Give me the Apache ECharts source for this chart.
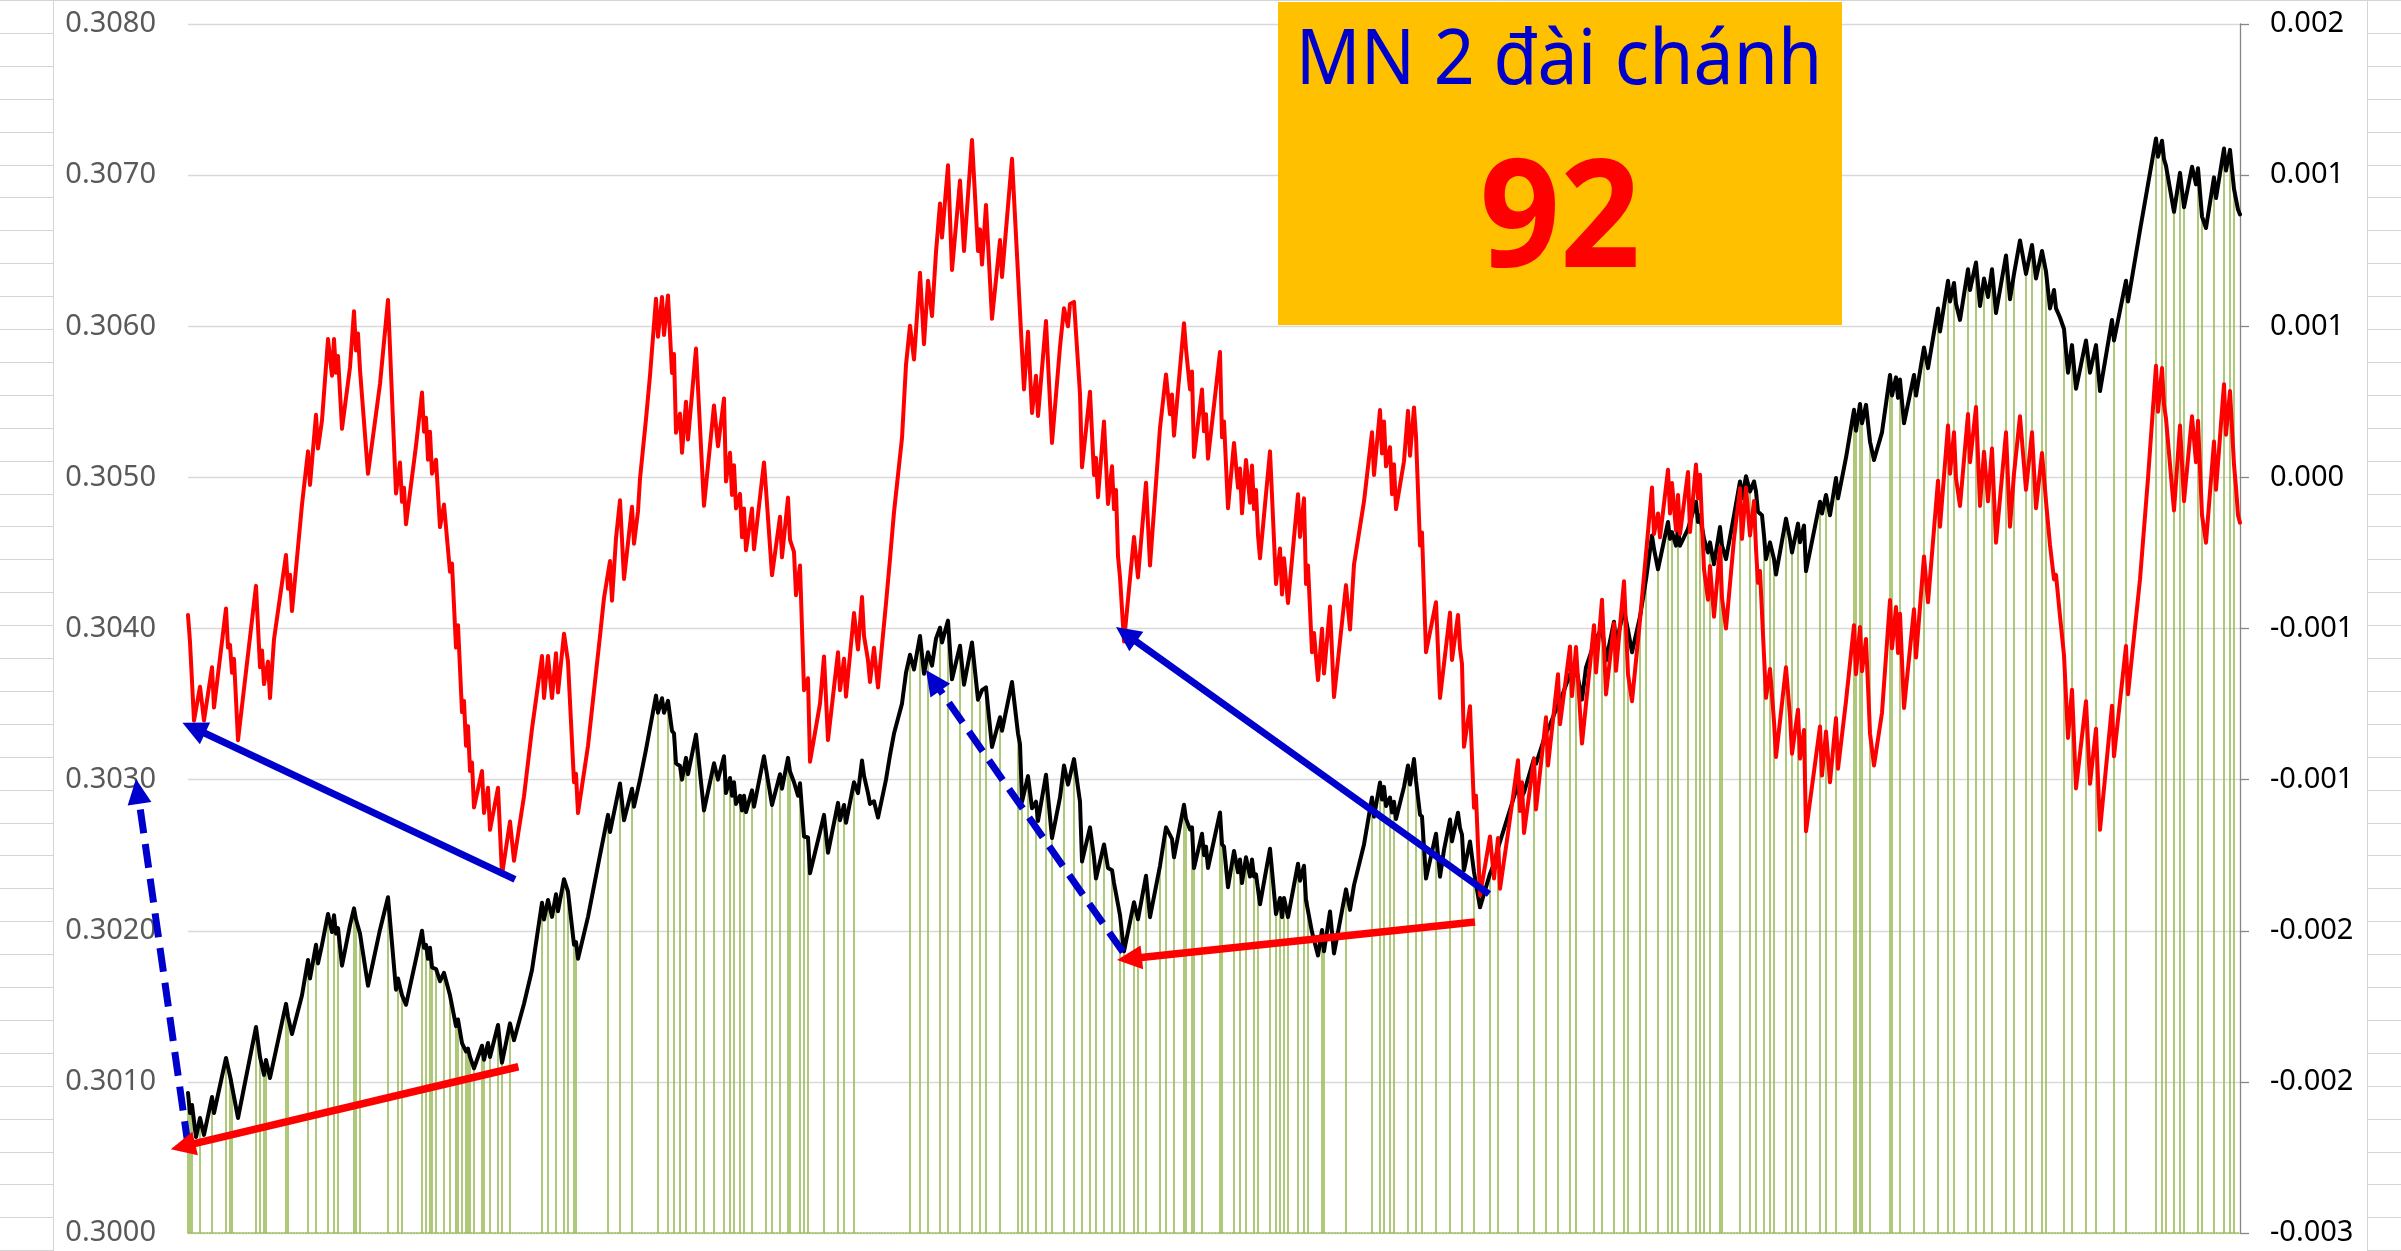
<!DOCTYPE html>
<html><head><meta charset="utf-8">
<script src="https://cdn.jsdelivr.net/npm/echarts/dist/echarts.min.js"></script>
<style>html,body{margin:0;padding:0;background:#fff;}#c{width:2401px;height:1251px;}</style>
</head><body><div id="c"></div>
<script>
// session index (x) and ratio value (left axis)
const blackData = [[0,0.300927],[1,0.300794],[2,0.300847],[4,0.300635],[6,0.300761],[8,0.300649],[12,0.300900],[13,0.300794],[19,0.301158],[21,0.301039],[22,0.301026],[25,0.300761],[34,0.301363],[36,0.301165],[38,0.301046],[39,0.301145],[41,0.301026],[49,0.301516],[50,0.301430],[52,0.301317],[57,0.301573],[60,0.301807],[61,0.301684],[64,0.301907],[65,0.301784],[67,0.301907],[70,0.302111],[72,0.301992],[73,0.302103],[74,0.301981],[75,0.302018],[77,0.301769],[81,0.302037],[83,0.302148],[84,0.302074],[85,0.302074],[86,0.301981],[90,0.301636],[96,0.302007],[100,0.302222],[104,0.301610],[105,0.301684],[107,0.301573],[109,0.301510],[114,0.301814],[117,0.302000],[118,0.301888],[119,0.301907],[120,0.301814],[121,0.301888],[122,0.301758],[124,0.301747],[126,0.301666],[128,0.301721],[131,0.301573],[132,0.301584],[134,0.301369],[135,0.301413],[137,0.301257],[139,0.301202],[140,0.301220],[141,0.301165],[143,0.301090],[147,0.301239],[148,0.301146],[150,0.301257],[151,0.301165],[155,0.301376],[157,0.301127],[161,0.301387],[163,0.301276],[168,0.301517],[172,0.301740],[177,0.302185],[178,0.302074],[180,0.302204],[182,0.302092],[184,0.302241],[185,0.302129],[188,0.302341],[190,0.302259],[193,0.301907],[194,0.301925],[195,0.301814],[200,0.302092],[206,0.302500],
[210,0.302767],[211,0.302653],[216,0.302975],[218,0.302731],[222,0.302940],[223,0.302821],[226,0.303000],[229,0.303198],[234,0.303556],[235,0.303442],[237,0.303539],[238,0.303442],[240,0.303521],[242,0.303323],[243,0.303305],[244,0.303108],[246,0.303090],[247,0.303000],[249,0.303144],[250,0.303036],[254,0.303298],[258,0.302796],[263,0.303108],[265,0.303000],[268,0.303155],[269,0.302911],[271,0.303011],[272,0.302893],[273,0.302983],[274,0.302839],[276,0.302893],[277,0.302796],[278,0.302893],[279,0.302785],[282,0.302929],[283,0.302821],[288,0.303155],[289,0.303072],[292,0.302832],[296,0.303036],[297,0.302940],[300,0.303144],[301,0.303054],[303,0.302983],[304,0.302976],[305,0.302893],[306,0.302976],[308,0.302624],[310,0.302617],[311,0.302380],[316,0.302653],[318,0.302767],[320,0.302516],[325,0.302846],[326,0.302731],[328,0.302832],[329,0.302714],[333,0.302983],[335,0.302911],[337,0.303126],[338,0.303026],[340,0.302911],[341,0.302839],[343,0.302857],[345,0.302749],[349,0.303000],[351,0.303162],[353,0.303305],[357,0.303503],[359,0.303707],[361,0.303826],[363,0.303729],[366,0.303951],[368,0.303700],[370,0.303843],[372,0.303754],[374,0.303933],[376,0.304005],[377,0.303908],[380,0.304052],[382,0.303664],[386,0.303886],[388,0.303628],[392,0.303908],[395,0.303528],[396,0.303521],[397,0.303592],[399,0.303610],[402,0.303216],[406,0.303413],[407,0.303323],[412,0.303646],[415,0.303305],
[416,0.303235],[417,0.302854],[420,0.303023],[422,0.302811],[424,0.302854],[425,0.302726],[429,0.303032],[432,0.302613],[436,0.302882],[438,0.303094],[440,0.302967],[443,0.303136],[446,0.302854],[447,0.302458],[451,0.302684],[453,0.302486],[454,0.302345],[458,0.302571],[460,0.302415],[462,0.302401],[463,0.302316],[464,0.302325],[466,0.302104],[468,0.301864],[473,0.302189],[475,0.302076],[479,0.302364],[481,0.302090],[486,0.302430],[489,0.302684],[492,0.302608],[493,0.302486],[498,0.302834],[499,0.302740],[501,0.302670],[502,0.302684],[503,0.302415],[507,0.302642],[508,0.302500],[509,0.302557],[510,0.302415],[516,0.302783],[517,0.302571],[518,0.302557],[520,0.302288],[523,0.302528],[525,0.302387],[526,0.302472],[527,0.302316],[529,0.302486],[531,0.302359],[532,0.302472],[533,0.302359],[534,0.302373],[535,0.302274],[536,0.302175],[541,0.302543],[544,0.302110],[546,0.302217],[547,0.302090],[548,0.302217],[550,0.302090],[555,0.302444],[556,0.302331],[558,0.302430],[559,0.302203],[560,0.302203],[562,0.301991],[563,0.301991],[565,0.301836],[567,0.302005],[568,0.301864],[571,0.302127],[573,0.301850],[579,0.302274],[581,0.302138],[583,0.302302],[588,0.302571],[592,0.302882],[593,0.302755],[596,0.302981],[597,0.302868],[598,0.302952],[599,0.302825],[601,0.302882],[602,0.302783],[603,0.302854],[604,0.302740],[608,0.302952],[610,0.303094],[611,0.302967],[613,0.303136],[614,0.302995],[616,0.302769],[617,0.302755],[619,0.302345],[624,0.302642],[626,0.302358],
[628,0.302535],[631,0.302736],[632,0.302591],[635,0.302781],[636,0.302680],[637,0.302635],[638,0.302401],[641,0.302591],[643,0.302389],[644,0.302378],[646,0.302155],[651,0.302378],[653,0.302445],[655,0.302546],[660,0.302759],[665,0.302971],[666,0.302870],[668,0.302915],[673,0.303139],[674,0.303105],[679,0.303307],[681,0.303363],[685,0.303497],[687,0.303553],[691,0.303698],[692,0.303653],[694,0.303743],[697,0.303530],[699,0.303743],[703,0.303899],[707,0.304011],[709,0.303788],[713,0.304045],[714,0.303899],[718,0.304123],[720,0.303989],[722,0.303843],[726,0.304078],[729,0.304324],[732,0.304615],[733,0.304526],[735,0.304392],[740,0.304705],[741,0.304593],[742,0.304638],[744,0.304548],[745,0.304660],[746,0.304548],[750,0.304660],[754,0.304839],[755,0.304705],[756,0.304749],[758,0.304593],[760,0.304503],[761,0.304570],[763,0.304425],[766,0.304671],[767,0.304548],[769,0.304459],[773,0.304749],[776,0.304973],[777,0.304861],[779,0.305007],[781,0.304906],[783,0.304973],[784,0.304906],[785,0.304772],[787,0.304749],[788,0.304615],[789,0.304459],[791,0.304570],[793,0.304459],[794,0.304358],[799,0.304727],[801,0.304593],[802,0.304503],[805,0.304694],[806,0.304570],[808,0.304682],[809,0.304380],[816,0.304839],[817,0.304761],[819,0.304884],[821,0.304749],[824,0.304996],[825,0.304861],[829,0.305130],[833,0.305447],[834,0.305309],[836,0.305486],
[837,0.305358],[839,0.305480],[841,0.305237],[843,0.305115],[847,0.305298],[851,0.305678],[852,0.305541],[854,0.305662],[855,0.305526],[856,0.305647],[858,0.305358],[863,0.305678],[864,0.305541],[868,0.305860],[870,0.305723],[875,0.306118],[876,0.305966],[880,0.306301],[881,0.306164],[883,0.306286],[884,0.306149],[886,0.306042],[890,0.306377],[891,0.306240],[894,0.306422],[896,0.306134],[898,0.306316],[900,0.306194],[902,0.306377],[904,0.306088],[909,0.306468],[911,0.306179],[913,0.306346],[916,0.306568],[919,0.306346],[922,0.306538],[924,0.306316],[927,0.306498],[929,0.306362],[931,0.306118],[933,0.306240],[934,0.306118],[936,0.306058],[938,0.305982],[940,0.305693],[942,0.305875],[944,0.305586],[949,0.305906],[951,0.305693],[954,0.305875],[956,0.305571],[962,0.306042],[963,0.305906],[969,0.306301],[970,0.306164],[976,0.306635],[980,0.306939],[984,0.307243],[985,0.307122],[987,0.307228],[988,0.307106],[989,0.307061],[993,0.306757],[996,0.307015],[998,0.306787],[1002,0.307055],[1004,0.306939],[1005,0.307046],[1007,0.306726],[1009,0.306650],[1013,0.306985],[1014,0.306848],[1018,0.307176],[1019,0.307030],[1021,0.307167],[1023,0.306909],[1025,0.306772],[1026,0.306740]];

const redData = [[0,0.304089],[1,0.303911],[3,0.303391],[6,0.303614],[8,0.303391],[12,0.303744],[13,0.303477],[19,0.304133],[20,0.303874],[21,0.303892],[22,0.303707],[23,0.303799],[25,0.303261],[34,0.304282],[36,0.303744],[37,0.303855],[38,0.303632],[40,0.303781],[41,0.303540],[43,0.303929],[49,0.304486],[50,0.304263],[51,0.304356],[52,0.304115],[57,0.304820],[60,0.305172],[61,0.304950],[64,0.305414],[65,0.305191],[67,0.305377],[70,0.305915],[72,0.305673],[73,0.305915],[74,0.305692],[75,0.305803],[77,0.305321],[81,0.305729],[83,0.306100],[84,0.305840],[85,0.305952],[86,0.305711],[90,0.305024],[96,0.305618],[100,0.306174],[104,0.304894],[106,0.305098],[107,0.304838],[108,0.304931],[109,0.304690],[114,0.305210],[117,0.305562],[118,0.305302],[119,0.305395],[120,0.305117],[121,0.305302],[122,0.305024],[124,0.305117],[126,0.304671],[128,0.304820],[131,0.304375],[132,0.304430],[134,0.303874],[135,0.304022],[137,0.303447],[138,0.303521],[139,0.303224],[140,0.303354],[141,0.303057],[142,0.303113],[143,0.302816],[147,0.303057],[148,0.302779],[150,0.302946],[151,0.302668],[155,0.302946],[157,0.302371],[161,0.302723],[163,0.302463],[168,0.302890],[172,0.303336],[177,0.303818],[178,0.303540],[180,0.303818],[182,0.303540],[184,0.303836],[185,0.303577],[188,0.303966],[190,0.303781],[193,0.302983],[194,0.303039],[195,0.302779],[200,0.303224],[206,0.303950],
[208,0.304202],[211,0.304446],[212,0.304184],[214,0.304597],[216,0.304848],[218,0.304328],[222,0.304805],[223,0.304561],[225,0.304776],[226,0.304991],[229,0.305386],[231,0.305673],[234,0.306182],[235,0.305931],[237,0.306193],[238,0.305942],[240,0.306204],[242,0.305691],[243,0.305816],[244,0.305296],[246,0.305422],[247,0.305163],[249,0.305501],[250,0.305250],[254,0.305852],[258,0.304812],[263,0.305476],[265,0.305206],[268,0.305522],[269,0.304973],[271,0.305163],[272,0.304884],[273,0.305081],[274,0.304794],[276,0.304891],[277,0.304604],[278,0.304794],[279,0.304518],[282,0.304794],[283,0.304525],[288,0.305099],[289,0.304920],[292,0.304353],[296,0.304740],[297,0.304471],[300,0.304866],[301,0.304586],[303,0.304507],[304,0.304220],[306,0.304417],[308,0.303592],[310,0.303671],[311,0.303119],[316,0.303503],[318,0.303815],[320,0.303262],[325,0.303843],[326,0.303592],[328,0.303800],[329,0.303549],[333,0.304102],[335,0.303861],[337,0.304209],[338,0.303951],[340,0.303790],[341,0.303646],[343,0.303872],[345,0.303610],[349,0.304166],[351,0.304460],[353,0.304769],[357,0.305260],[359,0.305745],[361,0.306003],[363,0.305780],[366,0.306354],[368,0.305881],[370,0.306301],[372,0.306067],[374,0.306491],[376,0.306813],[377,0.306587],[380,0.307065],[382,0.306372],[386,0.306964],[388,0.306498],[392,0.307233],[395,0.306498],[396,0.306641],[397,0.306408],[399,0.306803],[402,0.306049],[406,0.306570],[407,0.306326],[412,0.307108],
[418,0.305582],[420,0.305963],[422,0.305426],[424,0.305672],[425,0.305406],[429,0.306034],[432,0.305228],[436,0.305864],[438,0.306119],[440,0.306000],[441,0.306147],[443,0.306161],[446,0.305553],[447,0.305067],[451,0.305567],[453,0.305016],[454,0.305129],[455,0.304869],[458,0.305370],[460,0.304824],[462,0.305073],[463,0.304790],[464,0.304917],[465,0.304479],[466,0.304338],[468,0.303914],[473,0.304606],[475,0.304338],[479,0.304965],[481,0.304417],[486,0.305327],[489,0.305681],[491,0.305418],[492,0.305548],[493,0.305276],[498,0.306020],[499,0.305850],[501,0.305582],[502,0.305700],[503,0.305135],[507,0.305582],[508,0.305305],[509,0.305418],[510,0.305124],[516,0.305830],[517,0.305265],[518,0.305370],[520,0.304796],[523,0.305228],[525,0.304931],[526,0.305059],[527,0.304762],[529,0.305115],[531,0.304832],[532,0.305078],[533,0.304790],[534,0.304917],[535,0.304620],[536,0.304465],[541,0.305172],[544,0.304295],[546,0.304530],[547,0.304225],[548,0.304465],[550,0.304168],[555,0.304889],[556,0.304606],[558,0.304861],[559,0.304295],[560,0.304417],[562,0.303843],[563,0.303970],[565,0.303659],[567,0.303998],[568,0.303702],[571,0.304145],[573,0.303546],[579,0.304287],[581,0.303993],[583,0.304423],[588,0.304841],[592,0.305299],[593,0.305016],[596,0.305446],[597,0.305158],[598,0.305370],[599,0.305073],[601,0.305200],[602,0.304889],[603,0.305087],[604,0.304790],[608,0.305107],[610,0.305440],[611,0.305143],[613,0.305463],[614,0.305271],[616,0.304550],[617,0.304635],[619,0.303843],[624,0.304174],[626,0.303540],
[631,0.304105],[632,0.303792],[635,0.304090],[636,0.303866],[637,0.303765],[638,0.303217],[641,0.303486],[643,0.302814],[644,0.302893],[646,0.302233],[651,0.302624],[653,0.302345],[655,0.302613],[656,0.302278],[660,0.302647],[665,0.303128],[666,0.302792],[667,0.302982],[668,0.302647],[673,0.303139],[674,0.302803],[679,0.303412],[680,0.303094],[685,0.303698],[686,0.303367],[691,0.303881],[692,0.303553],[694,0.303877],[697,0.303239],[703,0.304022],[704,0.303709],[707,0.304190],[709,0.303564],[713,0.304034],[714,0.303720],[718,0.304313],[720,0.303698],[722,0.303519],[726,0.304056],[732,0.304933],[733,0.304626],[735,0.304761],[736,0.304604],[740,0.305051],[741,0.304761],[742,0.304962],[744,0.304649],[745,0.304884],[746,0.304626],[750,0.305036],[751,0.304638],[754,0.305085],[755,0.304861],[756,0.305018],[758,0.304392],[760,0.304190],[761,0.304414],[763,0.304078],[766,0.304537],[767,0.304201],[769,0.304000],[773,0.304593],[776,0.304928],[777,0.304593],[779,0.304933],[781,0.304615],[783,0.304843],[784,0.304526],[785,0.304302],[786,0.304380],[787,0.304101],[789,0.303541],[791,0.303732],[793,0.303385],[794,0.303150],[799,0.303743],[801,0.303418],[802,0.303172],[805,0.303463],[806,0.303139],[808,0.303329],[809,0.302658],[816,0.303351],[817,0.303027],[819,0.303318],[821,0.302982],[824,0.303407],[825,0.303072],[829,0.303519],[833,0.304022],[834,0.303698],[836,0.304010],
[837,0.303717],[839,0.303930],[841,0.303306],[843,0.303094],[847,0.303443],[851,0.304188],[852,0.303869],[854,0.304142],[855,0.303838],[856,0.304097],[858,0.303474],[863,0.304127],[864,0.303808],[868,0.304477],[870,0.304173],[875,0.304978],[876,0.304674],[880,0.305343],[881,0.305024],[883,0.305298],[884,0.304994],[886,0.304811],[890,0.305419],[891,0.305100],[894,0.305465],[896,0.304811],[898,0.305170],[900,0.304842],[902,0.305191],[904,0.304568],[909,0.305298],[911,0.304674],[913,0.305024],[916,0.305404],[919,0.304918],[922,0.305298],[924,0.304796],[927,0.305161],[929,0.304842],[931,0.304553],[933,0.304325],[934,0.304355],[936,0.304082],[938,0.303823],[940,0.303276],[942,0.303595],[944,0.302942],[949,0.303519],[951,0.302972],[954,0.303337],[956,0.302668],[962,0.303489],[963,0.303154],[969,0.303884],[970,0.303565],[976,0.304325],[980,0.304994],[984,0.305738],[985,0.305434],[987,0.305723],[988,0.305480],[989,0.305389],[993,0.304781],[996,0.305343],[998,0.304842],[1002,0.305404],[1004,0.305100],[1005,0.305374],[1007,0.304750],[1009,0.304568],[1013,0.305237],[1014,0.304918],[1018,0.305617],[1019,0.305282],[1021,0.305571],[1023,0.305085],[1024,0.304933],[1025,0.304750],[1026,0.304700]];

// sessions that carry a green column (column height = black value of that session)
const greenSessions = [0,1,2,7,12,19,21,22,23,35,36,38,40,49,51,60,64,70,73,76,83,84,86,88,100,101,105,107,117,119,121,123,125,128,129,131,134,136,137,139,140,141,143,144,145,147,148,151,155,156,157,161,177,180,184,188,190,193,194,
210,217,222,235,240,241,243,246,249,255,257,263,268,271,273,276,278,282,290,291,296,300,302,306,308,310,318,325,328,333,362,366,371,376,380,386,392,396,400,406,414,
418,420,424,429,432,439,443,447,451,454,459,462,466,469,473,475,479,486,489,493,498,500,502,503,507,516,517,524,526,529,533,535,541,543,546,548,551,555,558,560,567,569,579,592,596,598,601,603,610,614,618,625,
631,637,643,650,655,665,673,679,685,691,695,703,708,713,718,720,726,729,735,740,742,745,750,754,756,757,759,762,766,768,776,781,784,788,792,793,799,803,805,809,816,819,824,833,834,
836,837,842,851,853,857,863,869,875,880,883,890,894,898,902,909,913,918,923,927,930,939,943,949,955,963,969,984,987,989,992,996,1000,1006,1007,1013,1018,1022,1024];

const rightTickLabels = ['-0.003','-0.002','-0.002','-0.001','-0.001','0.000','0.001','0.001','0.002'];

// annotation arrows in data coordinates [session, value]
const arrowsSpec = [
  {from:[163.5,0.302340], to:[-2.8,0.303377], kind:'blue'},
  {from:[0,0.300582], to:[-26,0.303004], kind:'blueDash'},
  {from:[165.2,0.301100], to:[-8.6,0.300554], kind:'red'},
  {from:[467.5,0.301859], to:[369,0.303725], kind:'blueDash'},
  {from:[643.5,0.302058], to:[464.5,0.301806], kind:'red'},
  {from:[650.5,0.302243], to:[464,0.304010], kind:'blue'}
];

const titleText = 'MN 2 đài chánh';
const titleNumber = '92';

// column series values: nearest black session for each green session
function nearestIdx(s){let b=0,bd=1e9;for(let k=0;k<blackData.length;k++){const d=Math.abs(blackData[k][0]-s);if(d<bd){bd=d;b=k;}}return b;}
const barIdx=[...new Set(greenSessions.map(nearestIdx))].sort((a,b)=>a-b);
const barData=barIdx.map(k=>blackData[k]);

const chart = echarts.init(document.getElementById('c'), null, {renderer:'canvas'});
const FONT='"Noto Sans", "Open Sans", sans-serif';
chart.setOption({
  animation:false,
  backgroundColor:'#fff',
  grid:{left:188,right:161,top:24,bottom:18,containLabel:false},
  xAxis:{type:'value',min:0,max:1026,axisLabel:{show:false},axisTick:{show:false},splitLine:{show:false},
    axisLine:{show:true,onZero:false,lineStyle:{color:'#9BBB59',type:'dotted',width:1.5}}},
  yAxis:[
    {type:'value',min:0.3,max:0.308,interval:0.001,axisLine:{show:false},axisTick:{show:false},
     splitLine:{show:true,lineStyle:{color:'#D9D9D9',width:1.3}},
     axisLabel:{formatter:v=>v.toFixed(4),color:'#595959',fontSize:29,fontFamily:FONT,margin:32}},
    {type:'value',position:'right',min:0,max:8,interval:1,
     axisLine:{show:true,lineStyle:{color:'#868686',width:1.3}},
     axisTick:{show:true,length:9,lineStyle:{color:'#868686',width:1.3}},
     splitLine:{show:false},
     axisLabel:{formatter:v=>rightTickLabels[Math.round(v)],color:'#000',fontSize:29,fontFamily:FONT,margin:30}}
  ],
  series:[
    {type:'custom',name:'cols',data:barData,encode:{x:0,y:1},z:1,silent:true,
     renderItem:function(params,api){
       const t=api.coord([api.value(0),api.value(1)]);
       const b=api.coord([api.value(0),0.3]);
       return {type:'line',shape:{x1:t[0],y1:t[1],x2:b[0],y2:b[1]},style:{stroke:'#9BBB59',lineWidth:1.6}};
     }},
    {type:'line',name:'black',data:blackData,showSymbol:false,symbol:'none',z:3,
     lineStyle:{color:'#000',width:4,join:'round',cap:'round'}},
    {type:'line',name:'red',data:redData,showSymbol:false,symbol:'none',z:4,
     lineStyle:{color:'#FF0000',width:4,join:'round',cap:'round'}}
  ]
});

// decorations: spreadsheet gridlines around the chart, caption box, arrows
const G=[];
const sheet='#D4D4D4';
G.push({type:'line',shape:{x1:0,y1:0.5,x2:2401,y2:0.5},style:{stroke:sheet,lineWidth:1},z:50});
G.push({type:'line',shape:{x1:53.5,y1:0,x2:53.5,y2:1251},style:{stroke:sheet,lineWidth:1},z:50});
G.push({type:'line',shape:{x1:2367.5,y1:0,x2:2367.5,y2:1251},style:{stroke:sheet,lineWidth:1},z:50});
for(let k=1;k<=38;k++){
  const y=Math.round(k*32.9)+0.5;
  G.push({type:'line',shape:{x1:0,y1:y,x2:53,y2:y},style:{stroke:sheet,lineWidth:1},z:50});
  G.push({type:'line',shape:{x1:2368,y1:y,x2:2401,y2:y},style:{stroke:sheet,lineWidth:1},z:50});
}
G.push({type:'rect',shape:{x:1278,y:2,width:564,height:323},style:{fill:'#FFC000'},z:100});
G.push({type:'text',x:1559,y:62,scaleX:0.93,z:101,style:{text:titleText,fontSize:77,fontFamily:FONT,fill:'#0000CC',align:'center',verticalAlign:'middle'}});
G.push({type:'text',x:1560,y:224,scaleX:0.93,z:101,style:{text:titleNumber,fontSize:151,fontWeight:'bold',fontFamily:FONT,fill:'#FF0000',align:'center',verticalAlign:'middle'}});

const styles={blue:{c:'#0000CC',w:7,dash:null},blueDash:{c:'#0000CC',w:7,dash:[24,11]},red:{c:'#FF0000',w:7.5,dash:null}};
const P=d=>chart.convertToPixel({xAxisIndex:0,yAxisIndex:0},d);
arrowsSpec.forEach(a=>{
  const s=styles[a.kind];const t=P(a.from),h=P(a.to);
  const dx=h[0]-t[0],dy=h[1]-t[1],len=Math.hypot(dx,dy),ux=dx/len,uy=dy/len;
  const L=25,W=24;const bx=h[0]-ux*L,by=h[1]-uy*L;const px=-uy,py=ux;
  G.push({type:'line',z:110,shape:{x1:t[0],y1:t[1],x2:bx+ux*3,y2:by+uy*3},style:{stroke:s.c,lineWidth:s.w,lineDash:s.dash,lineCap:'butt'}});
  G.push({type:'polygon',z:111,shape:{points:[[h[0],h[1]],[bx+px*W/2,by+py*W/2],[bx-px*W/2,by-py*W/2]]},style:{fill:s.c}});
});
chart.setOption({graphic:{elements:G}});
</script></body></html>
